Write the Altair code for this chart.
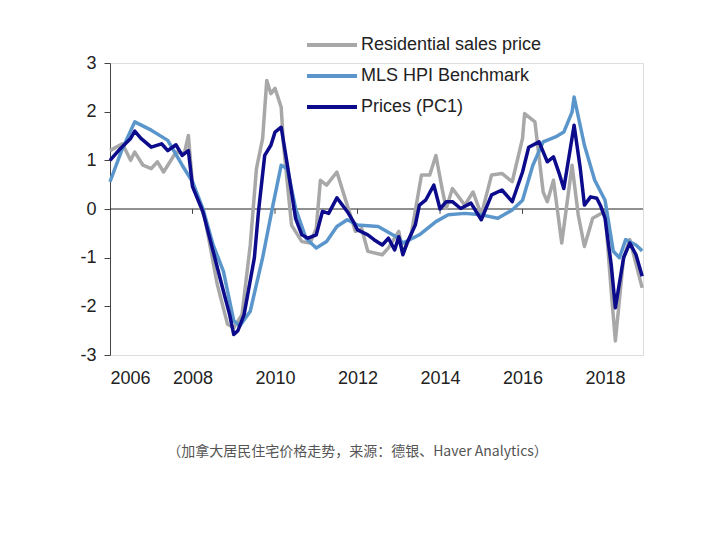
import altair as alt
import pandas as pd

FONT = "Liberation Sans"

# year (fractional), value
PC1_X = [2006.0, 2006.25, 2006.5, 2006.6, 2006.75, 2007.0, 2007.25, 2007.4, 2007.6, 2007.75, 2007.9,
         2008.0, 2008.25, 2008.5, 2008.75, 2008.9, 2009.0, 2009.1, 2009.25, 2009.5, 2009.6, 2009.75,
         2009.9, 2010.0, 2010.15, 2010.3, 2010.5, 2010.65, 2010.8, 2011.0, 2011.15, 2011.3, 2011.5,
         2011.75, 2011.9, 2012.0, 2012.25, 2012.4, 2012.6, 2012.75, 2012.9, 2013.0, 2013.1, 2013.2,
         2013.4, 2013.5, 2013.65, 2013.85, 2014.0, 2014.15, 2014.3, 2014.5, 2014.75, 2015.0, 2015.25,
         2015.5, 2015.75, 2016.0, 2016.15, 2016.4, 2016.6, 2016.75, 2016.9, 2017.0, 2017.25, 2017.4,
         2017.5, 2017.65, 2017.8, 2017.9, 2018.0, 2018.15, 2018.25, 2018.45, 2018.6, 2018.75, 2018.9]
PC1_Y = [1.0, 1.24, 1.45, 1.6, 1.45, 1.27, 1.34, 1.2, 1.32, 1.1, 1.2,
         0.46, -0.05, -0.87, -1.69, -2.17, -2.58, -2.5, -2.17, -1.0, -0.05, 1.1,
         1.31, 1.58, 1.68, 0.9, -0.2, -0.53, -0.6, -0.53, -0.05, -0.09, 0.23,
         -0.05, -0.26, -0.43, -0.53, -0.63, -0.74, -0.6, -0.84, -0.57, -0.94, -0.7,
         -0.33, 0.08, 0.18, 0.49, 0.0, 0.15, 0.15, 0.01, 0.12, -0.22, 0.29,
         0.39, 0.15, 0.76, 1.27, 1.38, 0.97, 1.07, 0.7, 0.42, 1.72, 0.83,
         0.08, 0.25, 0.22, 0.05, -0.19, -1.15, -2.03, -1.0, -0.7, -0.94, -1.38]

MLS_X = [2006.0, 2006.3, 2006.6, 2007.0, 2007.4, 2007.75, 2008.0, 2008.25, 2008.5, 2008.75, 2009.0,
         2009.15, 2009.4, 2009.7, 2009.95, 2010.15, 2010.3, 2010.5, 2010.75, 2011.0, 2011.25, 2011.5,
         2011.75, 2012.0, 2012.5, 2013.0, 2013.1, 2013.5, 2013.9, 2014.2, 2014.6, 2015.0, 2015.4,
         2015.75, 2016.0, 2016.25, 2016.5, 2016.8, 2017.0, 2017.2, 2017.25, 2017.5, 2017.75, 2018.0,
         2018.2, 2018.35, 2018.5, 2018.75, 2018.9]
MLS_Y = [0.56, 1.24, 1.79, 1.62, 1.41, 0.9, 0.56, 0.01, -0.74, -1.28, -2.3,
         -2.4, -2.1, -1.0, 0.08, 0.9, 0.83, 0.01, -0.6, -0.8, -0.67, -0.36,
         -0.22, -0.33, -0.36, -0.6, -0.7, -0.53, -0.26, -0.12, -0.09, -0.12, -0.19,
         -0.02, 0.18, 0.9, 1.38, 1.48, 1.58, 1.99, 2.3, 1.31, 0.59, 0.18,
         -0.87, -1.0, -0.63, -0.74, -0.86]

RES_X = [2006.0, 2006.3, 2006.5, 2006.6, 2006.8, 2007.0, 2007.15, 2007.3, 2007.6, 2007.8, 2007.9,
         2008.0, 2008.3, 2008.6, 2008.85, 2009.0, 2009.2, 2009.4, 2009.55, 2009.7, 2009.8, 2009.9,
         2010.0, 2010.15, 2010.2, 2010.4, 2010.65, 2010.85, 2011.0, 2011.1, 2011.25, 2011.5, 2011.75,
         2011.95, 2012.1, 2012.25, 2012.6, 2012.75, 2013.0, 2013.1, 2013.3, 2013.55, 2013.75, 2013.9,
         2014.05, 2014.15, 2014.3, 2014.6, 2014.8, 2015.0, 2015.25, 2015.5, 2015.75, 2016.0, 2016.05,
         2016.3, 2016.5, 2016.6, 2016.75, 2016.95, 2017.2, 2017.35, 2017.5, 2017.7, 2017.85, 2018.0,
         2018.15, 2018.25, 2018.45, 2018.6, 2018.9]
RES_Y = [1.2, 1.34, 1.0, 1.17, 0.9, 0.83, 0.97, 0.76, 1.17, 1.14, 1.51,
         0.49, -0.19, -1.55, -2.37, -2.44, -2.17, -0.74, 0.83, 1.45, 2.64, 2.37,
         2.48, 2.09, 1.38, -0.33, -0.67, -0.7, -0.4, 0.59, 0.49, 0.76, 0.08,
         -0.46, -0.4, -0.87, -0.94, -0.8, -0.46, -0.9, -0.53, 0.7, 0.7, 1.1,
         0.42, 0.01, 0.42, 0.08, 0.35, -0.12, 0.7, 0.73, 0.56, 1.45, 1.96,
         1.79, 0.35, 0.15, 0.59, -0.7, 0.9, -0.12, -0.77, -0.19, -0.12, -0.05,
         -1.69, -2.71, -1.0, -0.63, -1.62]

SERIES = ["Residential sales price", "MLS HPI Benchmark", "Prices (PC1)"]
COLORS = ["#a8a8a8", "#5a96cb", "#0b0b8c"]
TICK_YEARS = [2008, 2010, 2012, 2014, 2016, 2018]
CAPTION = "（加拿大居民住宅价格走势，来源：德银、Haver Analytics）"

frames = []
for name, xs, ys in zip(SERIES, [RES_X, MLS_X, PC1_X], [RES_Y, MLS_Y, PC1_Y]):
    frames.append(pd.DataFrame({"year": xs, "value": ys, "series": name}))
df = pd.concat(frames)

x_scale = alt.Scale(domain=[2006, 2018.92], nice=False, zero=False)
y_scale = alt.Scale(domain=[-3, 3], nice=False)

lines = (
    alt.Chart(df)
    .mark_line(strokeWidth=3.5, strokeJoin="round")
    .encode(
        x=alt.X("year:Q", scale=x_scale, title=None,
                axis=alt.Axis(values=[2006, 2008, 2010, 2012, 2014, 2016, 2018], format="d",
                              domain=False, ticks=False, grid=False, labelPadding=14,
                              labelFontSize=18, labelColor="#222", labelFont=FONT)),
        y=alt.Y("value:Q", scale=y_scale, title=None,
                axis=alt.Axis(values=[-3, -2, -1, 0, 1, 2, 3], grid=False, domainColor="#444",
                              labelExpr="toString(datum.value)",
                              tickColor="#444", tickSize=6, labelPadding=8, labelFontSize=18,
                              labelColor="#222", labelFont=FONT)),
        color=alt.Color("series:N", sort=SERIES,
                        scale=alt.Scale(domain=SERIES, range=COLORS),
                        legend=alt.Legend(orient="none", legendX=195, legendY=-28, title=None,
                                          symbolType="stroke", symbolStrokeWidth=4, symbolSize=2500,
                                          labelFontSize=18, labelFont=FONT, labelColor="#222",
                                          labelLimit=400, labelOffset=2, rowPadding=11,
                                          clipHeight=20)),
        order=alt.Order("year:Q"),
        detail="series:N",
    )
)

zero = (
    alt.Chart(pd.DataFrame({"v": [0]}))
    .mark_rule(color="#222", strokeWidth=1)
    .encode(y=alt.Y("v:Q", scale=y_scale))
)

ticks = (
    alt.Chart(pd.DataFrame({"year": TICK_YEARS}))
    .mark_rule(color="#444", strokeWidth=1)
    .encode(x=alt.X("year:Q", scale=x_scale), y=alt.datum(0), y2=alt.datum(-0.1))
)

chart = (
    alt.layer(zero, ticks, lines)
    .properties(
        width=533, height=292,
        autosize=alt.AutoSizeParams(type="none"),
        padding={"left": 102, "top": 55, "right": 40, "bottom": 150},
        title=alt.TitleParams(CAPTION, orient="bottom", offset=58, dx=-19, fontSize=14,
                              fontWeight="normal", color="#555", font="Noto Sans CJK SC"),
    )
    .configure_view(stroke=None)
    .configure(background="white")
)

chart.save("out.html", embed_options={"renderer": "svg", "actions": False})
